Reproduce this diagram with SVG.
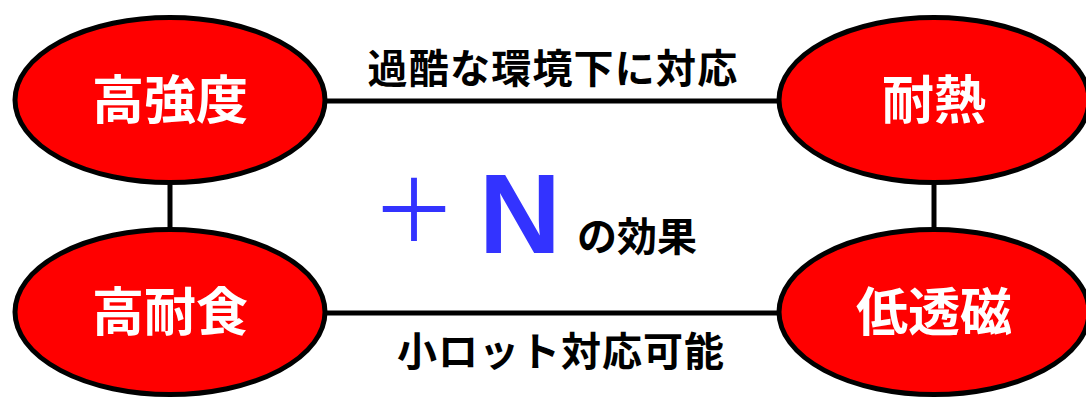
<svg xmlns="http://www.w3.org/2000/svg" width="1086" height="397" viewBox="0 0 1086 397">
<style>
.node ellipse{fill:#ff0000;stroke:#000;stroke-width:5}
.node text{fill:#fff;font-family:"Noto Sans CJK JP","Noto Sans",sans-serif;font-weight:bold;font-size:52px;text-anchor:middle}
.conn line{stroke:#000;stroke-width:5}
.lbl{fill:#000;font-family:"Noto Sans CJK JP","Noto Sans",sans-serif;font-weight:bold;font-size:40px;text-anchor:middle}
.blue{fill:#3333ff}
</style>
<rect width="1086" height="397" fill="#fff"/>
<g id="connectors" class="conn">
<line x1="170" y1="185" x2="170" y2="229"/>
<line x1="934" y1="185" x2="934" y2="229"/>
<line x1="325" y1="101" x2="779" y2="101"/>
<line x1="325" y1="313" x2="779" y2="313"/>
</g>
<g id="node-kokyodo" class="node">
<ellipse cx="170" cy="100" rx="155" ry="82.5"/>
<text x="170" y="119">高強度</text>
</g>
<g id="node-kotaishoku" class="node">
<ellipse cx="170" cy="312" rx="155" ry="82.5"/>
<text x="170" y="331">高耐食</text>
</g>
<g id="node-tainetsu" class="node">
<ellipse cx="934" cy="100" rx="155" ry="82.5"/>
<text x="934" y="119">耐熱</text>
</g>
<g id="node-toujiki" class="node">
<ellipse cx="934" cy="312" rx="155" ry="82.5"/>
<text x="934" y="331">低透磁</text>
</g>
<text class="lbl" x="553" y="83" letter-spacing="1.2">過酷な環境下に対応</text>
<text class="lbl" x="561" y="366" letter-spacing="1">小ロット対応可能</text>
<text class="blue" x="414" y="242" font-family="Noto Sans CJK JP,sans-serif" font-size="86" text-anchor="middle">＋</text>
<text class="blue" x="520" y="253" font-family="Liberation Sans,Arial,sans-serif" font-weight="bold" font-size="114" text-anchor="middle">N</text>
<text class="lbl" x="637" y="251">の効果</text>
</svg>
